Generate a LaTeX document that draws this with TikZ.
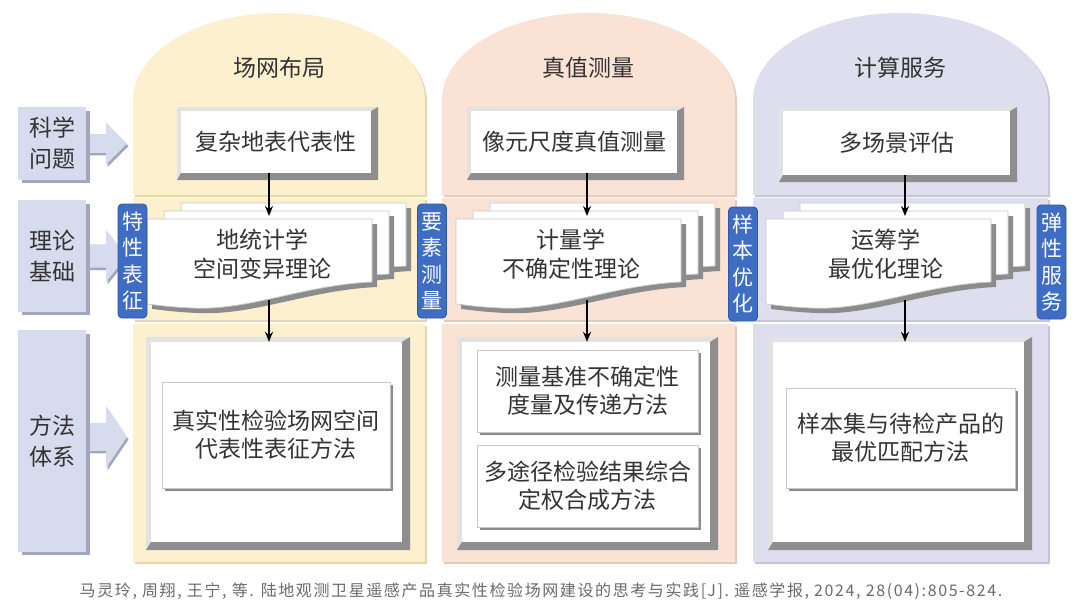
\documentclass[tikz,border=0pt]{standalone}
\usepackage{fontspec}
\setmainfont{Noto Sans CJK SC}
\newfontfamily\footfont[LetterSpace=10]{Noto Sans CJK SC}
\usetikzlibrary{arrows.meta,calc}
\definecolor{colY}{HTML}{FDF0CF}
\definecolor{colYs}{HTML}{E6D6AE}
\definecolor{colP}{HTML}{FAE2D5}
\definecolor{colPs}{HTML}{E3CABC}
\definecolor{colL}{HTML}{DEDEEE}
\definecolor{colLs}{HTML}{C4C4D6}
\definecolor{labc}{HTML}{D7DBEE}
\definecolor{labs}{HTML}{A3A7BC}
\definecolor{bluef}{HTML}{3E6DC3}
\definecolor{blued}{HTML}{2B58A8}
\definecolor{bevlight}{HTML}{E2E2E2}
\definecolor{bevdark}{HTML}{8E8E8E}
\definecolor{docline}{HTML}{C8C8C8}
\definecolor{docshadow}{HTML}{8C8C8C}
\definecolor{txt}{HTML}{333333}
\definecolor{foottxt}{HTML}{6A6A6A}

% column: left, right, fill, shade
\newcommand\colsec[4]{%
  \pgfmathsetmacro\cxm{(#1+#2)/2}%
  \pgfmathsetmacro\cka{\cxm-0.5523*(#2-#1)/2}%
  \pgfmathsetmacro\ckb{\cxm+0.5523*(#2-#1)/2}%
  \begin{scope}[shift={(2,2)}]
    \fill[#4] (#1,195) -- (#1,100) .. controls (#1,52) and (\cka,13) .. (\cxm,13)
      .. controls (\ckb,13) and (#2,52) .. (#2,100) -- (#2,195) -- cycle;
    \fill[#4] (#1,198) rectangle (#2,320);
    \fill[#4] (#1,324) rectangle (#2,562);
  \end{scope}
  \fill[#3] (#1,195) -- (#1,100) .. controls (#1,52) and (\cka,13) .. (\cxm,13)
      .. controls (\ckb,13) and (#2,52) .. (#2,100) -- (#2,195) -- cycle;
  \fill[#3] (#1,198) rectangle (#2,320);
  \fill[#3] (#1,324) rectangle (#2,562);
}

% bevel box: name, x1, y1, x2, y2, light width, dark width, text
\newcommand\bevbox[8]{%
  \pgfmathsetmacro\bxa{#2+#6}\pgfmathsetmacro\bya{#3+#6}%
  \pgfmathsetmacro\bxb{#4-#7}\pgfmathsetmacro\byb{#5-#7}%
  \pgfmathsetmacro\bw{#4-#2-#6-#7}\pgfmathsetmacro\bh{#5-#3-#6-#7}%
  \pgfmathsetmacro\bcx{(\bxa+\bxb)/2}\pgfmathsetmacro\bcy{(\bya+\byb)/2}%
  \fill[bevlight] (#2,#3) rectangle (#4,#5);
  \fill[bevdark] (#4,#3) -- (#4,#5) -- (#2,#5) -- (\bxa,\byb) -- (\bxb,\byb) -- (\bxb,\bya) -- cycle;
  \node[fill=white, inner sep=0pt, minimum width=\bw pt, minimum height=\bh pt, boxtext] (#1) at (\bcx,\bcy) {#8};
}

% one document page: a, b
\newcommand\docpage[2]{%
  \pgfmathsetmacro\pa{#1}\pgfmathsetmacro\pb{#2}%
  \pgfmathsetmacro\pr{#1+225}\pgfmathsetmacro\prb{#2+63}%
  \pgfmathsetmacro\pca{#1+157}\pgfmathsetmacro\pcb{#2+66}%
  \pgfmathsetmacro\pda{#1+101}\pgfmathsetmacro\pdb{#2+92}%
  \pgfmathsetmacro\pea{#1+45}\pgfmathsetmacro\peb{#2+89}%
  \pgfmathsetmacro\pfa{#1+22}\pgfmathsetmacro\pfb{#2+88}%
  \pgfmathsetmacro\pga{#1+10}\pgfmathsetmacro\pgb{#2+86}%
  \pgfmathsetmacro\plb{#2+85}%
  \fill[docshadow, shift={(5,5)}] (\pa,\pb) -- (\pr,\pb) -- (\pr,\prb)
     .. controls (\pca,\pcb) and (\pda,\pdb) .. (\pea,\peb)
     .. controls (\pfa,\pfb) and (\pga,\pgb) .. (\pa,\plb) -- cycle;
  \filldraw[fill=white, draw=docline, line width=0.8pt] (\pa,\pb) -- (\pr,\pb) -- (\pr,\prb)
     .. controls (\pca,\pcb) and (\pda,\pdb) .. (\pea,\peb)
     .. controls (\pfa,\pfb) and (\pga,\pgb) .. (\pa,\plb) -- cycle;
}
% doc stack: left x
\newcommand\docstack[1]{%
  \pgfmathsetmacro\da{#1+34}\docpage{\da}{203}%
  \pgfmathsetmacro\db{#1+17}\docpage{\db}{211}%
  \docpage{#1}{219}%
}

% method box: name, x1, y1, x2, y2, text
\newcommand\methbox[6]{%
  \pgfmathsetmacro\mw{#4-#2}\pgfmathsetmacro\mh{#5-#3}%
  \pgfmathsetmacro\mcx{(#2+#4)/2}\pgfmathsetmacro\mcy{(#3+#5)/2}%
  \fill[docshadow] (#2+3,#3+3) rectangle (#4+3,#5+3);
  \node[fill=white, draw=docline, line width=0.8pt, inner sep=0pt, minimum width=\mw pt, minimum height=\mh pt, boxtext, font=\fontsize{23}{28}\selectfont] (#1) at (\mcx,\mcy) {#6};
}

% left label: name, y1, y2, text
\newcommand\leftlab[4]{%
  \pgfmathsetmacro\lh{#3-#2}\pgfmathsetmacro\lcy{(#2+#3)/2}%
  \fill[labs] (22,#2+4) rectangle (90,#3+3);
  \node[fill=labc, inner sep=0pt, minimum width=68pt, minimum height=\lh pt, boxtext, font=\fontsize{23}{31}\selectfont] (#1) at (52,\lcy) {#4};
}
% block arrow: center y, head half height
\newcommand\blockarrow[2]{%
  \pgfmathsetmacro\ha{#1-#2}\pgfmathsetmacro\hb{#1+#2}%
  \pgfmathsetmacro\sa{#1-0.45*#2}\pgfmathsetmacro\sb{#1+0.45*#2}%
  \fill[labs, shift={(1.5,2.5)}] (86,\sa) -- (106,\sa) -- (106,\ha) -- (127,#1) -- (106,\hb) -- (106,\sb) -- (86,\sb) -- cycle;
  \fill[labc] (86,\sa) -- (106,\sa) -- (106,\ha) -- (127,#1) -- (106,\hb) -- (106,\sb) -- (86,\sb) -- cycle;
}

\begin{document}
\begin{tikzpicture}[x=1pt,y=-1pt,
  boxtext/.style={font=\fontsize{23}{29}\selectfont, text=txt, align=center},
  titletext/.style={font=\fontsize{23}{29}\selectfont, text=txt},
  bluelab/.style={fill=bluef, draw=blued, line width=0.8pt, rounded corners=4pt, text=white,
     align=center, inner sep=0pt, minimum width=29pt, minimum height=114pt,
     font=\fontsize{21}{26.5}\selectfont},
  arr/.style={-{Stealth[length=10pt,width=8pt]}, line width=1.6pt, black},
  foot/.style={font=\footfont\fontsize{16}{18}\selectfont, text=foottxt, inner sep=0pt}]
\useasboundingbox (0,0) rectangle (1080,616);
\fill[white] (0,0) rectangle (1080,616);

% columns
\colsec{133}{425}{colY}{colYs}
\colsec{442}{735}{colP}{colPs}
\colsec{753}{1048}{colL}{colLs}

% titles
\node[titletext] (tY) at (279,68) {场网布局};
\node[titletext] (tP) at (588.5,68) {真值测量};
\node[titletext] (tL) at (900.5,68) {计算服务};

% left labels and block arrows
\blockarrow{143.5}{21}
\blockarrow{256}{26}
\blockarrow{437}{31}
\leftlab{lq}{107}{180}{科学\\问题}
\leftlab{lt}{200}{312}{理论\\基础}
\leftlab{lm}{330}{552}{方法\\体系}

% top boxes
\bevbox{qY}{177}{107}{378}{180}{4}{7}{复杂地表代表性}
\bevbox{qP}{467}{107}{684}{180}{4}{7}{像元尺度真值测量}
\bevbox{qL}{779}{107}{1017}{182}{4}{7}{多场景评估}

% documents
\docstack{147}
\docstack{456}
\docstack{766}
\node[boxtext] (dY) at (262,254) {地统计学\\空间变异理论};
\node[boxtext] (dP) at (571,254) {计量学\\不确定性理论};
\node[boxtext] (dL) at (886,254) {运筹学\\最优化理论};

% method panels
\bevbox{pY}{146}{337}{410}{550}{5}{8}{}
\bevbox{pP}{457}{337}{718}{550}{5}{8}{}
\bevbox{pL}{768}{337}{1032}{550}{5}{8}{}
\methbox{mY}{162}{382}{390}{488}{真实性检验场网空间\\代表性表征方法}
\methbox{mP1}{477}{350}{698}{432}{测量基准不确定性\\度量及传递方法}
\methbox{mP2}{477}{445}{698}{527}{多途径检验结果综合\\定权合成方法}
\methbox{mL}{786}{388}{1015}{488}{样本集与待检产品的\\最优匹配方法}

% blue side labels
\node[bluelab] (sY) at (132.5,261) {特\\性\\表\\征};
\node[bluelab] (sP) at (432,261) {要\\素\\测\\量};
\node[bluelab] (sL1) at (743,264) {样\\本\\优\\化};
\node[bluelab] (sL2) at (1051.5,262) {弹\\性\\服\\务};

% vertical arrows
\coordinate (aY1) at (269,216);
\coordinate (aP1) at (587,216);
\coordinate (aL1) at (905,216);
\coordinate (aY2) at (269,300);
\coordinate (aP2) at (587,300);
\coordinate (aL2) at (905,300);
\draw[arr] (qY.south -| aY1) -- (aY1);
\draw[arr] (qP.south -| aP1) -- (aP1);
\draw[arr] (qL.south -| aL1) -- (aL1);
\draw[arr] (aY2) -- (aY2 |- pY.north);
\draw[arr] (aP2) -- (aP2 |- pP.north);
\draw[arr] (aL2) -- (aL2 |- pL.north);

% footer
\node[foot] (ref) at (541,591) {马灵玲, 周翔, 王宁, 等. 陆地观测卫星遥感产品真实性检验场网建设的思考与实践[J]. 遥感学报, 2024, 28(04):805-824.};
\end{tikzpicture}
\end{document}
